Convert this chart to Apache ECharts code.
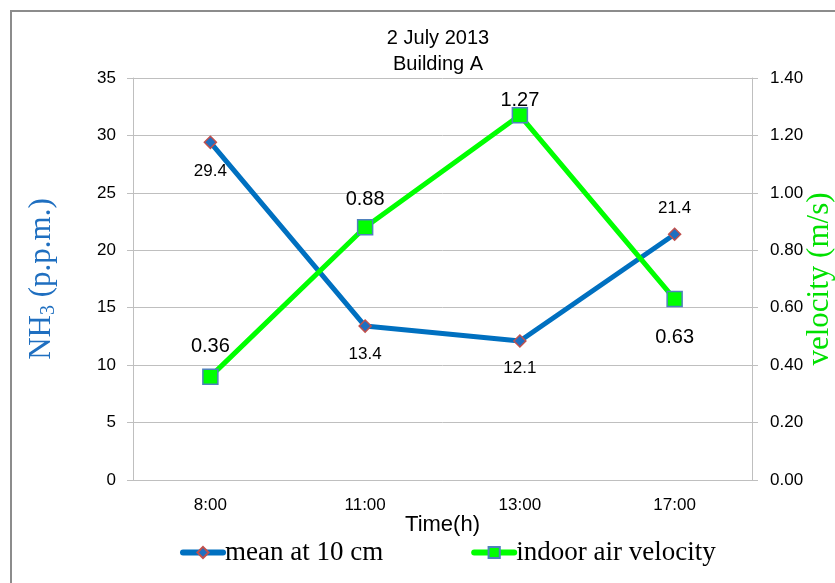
<!DOCTYPE html>
<html>
<head>
<meta charset="utf-8">
<script src="https://cdn.jsdelivr.net/npm/echarts@6/dist/echarts.min.js"></script>
<style>
  html, body { margin: 0; padding: 0; background: #fff; }
  #chart { width: 835px; height: 583px; }
</style>
</head>
<body>
<div id="chart"></div>
<script>
// Sampling times and measured values for Building A, 2 July 2013
const times = ['8:00', '11:00', '13:00', '17:00'];
const nh3Mean = [29.4, 13.4, 12.1, 21.4];          // NH3 mean at 10 cm (p.p.m.)
const airVelocity = [0.36, 0.88, 1.27, 0.63];      // indoor air velocity (m/s)

// Label placement for each point (above / below the marker)
const nh3LabelPos = ['bottom', 'bottom', 'bottom', 'top'];
const nh3LabelGap = [14, 13, 12, 11];
const velLabelPos = ['top', 'top', 'top', 'bottom'];
const velLabelGap = [12, 10, -3, 20];

const chart = echarts.init(document.getElementById('chart'));

const sans = '"Liberation Sans", Arial, sans-serif';
const serif = '"Liberation Serif", "Times New Roman", serif';

chart.setOption({
  animation: false,
  backgroundColor: '#ffffff',
  title: {
    text: '2 July 2013\nBuilding A',
    left: 433,
    top: 20,
    textAlign: 'center',
    textStyle: { fontFamily: sans, fontSize: 20, fontWeight: 'normal', color: '#000', lineHeight: 26 }
  },
  graphic: [{
    type: 'rect',
    shape: { x: 11, y: 11, width: 840, height: 590 },
    style: { fill: 'none', stroke: '#8c8c8c', lineWidth: 2 },
    silent: true
  }],
  grid: { left: 133, right: 83, top: 78, bottom: 103, outerBoundsMode: 'none' },
  legend: {
    bottom: 12,
    left: 175,
    itemWidth: 40,
    itemHeight: 14,
    itemGap: 88,
    lineStyle: { width: 6, cap: 'round' },
    textStyle: { fontFamily: serif, fontSize: 27, color: '#000', padding: [0, 0, 0, -3] },
    data: ['mean at 10 cm', 'indoor air velocity']
  },
  xAxis: {
    type: 'category',
    data: times,
    boundaryGap: true,
    name: 'Time(h)',
    nameLocation: 'middle',
    nameGap: 34,
    nameMoveOverlap: false,
    nameTextStyle: { fontFamily: sans, fontSize: 22, color: '#000' },
    axisLine: { lineStyle: { color: '#bfbfbf', width: 1 } },
    axisTick: { show: false },
    axisLabel: { fontFamily: sans, fontSize: 17, color: '#000', margin: 17 }
  },
  yAxis: [{
    type: 'value',
    min: 0, max: 35, interval: 5,
    position: 'left',
    name: 'NH{sub|3} (p.p.m.)',
    nameLocation: 'middle',
    nameRotate: 90,
    nameGap: 74,
    nameMoveOverlap: false,
    nameTextStyle: {
      fontFamily: serif, fontSize: 31, color: '#1f6fc0',
      rich: {
        sub: { fontFamily: serif, fontSize: 20, color: '#1f6fc0', padding: [14, 0, 0, 0] }
      }
    },
    axisLine: { show: true, lineStyle: { color: '#bfbfbf', width: 1 } },
    axisTick: { show: true, length: 6, lineStyle: { color: '#bfbfbf' } },
    axisLabel: { fontFamily: sans, fontSize: 17, color: '#000', margin: 17 },
    splitLine: { lineStyle: { color: '#bfbfbf', width: 1 } }
  }, {
    type: 'value',
    min: 0, max: 1.4, interval: 0.2,
    position: 'right',
    name: 'velocity (m/s)',
    nameLocation: 'middle',
    nameRotate: 90,
    nameGap: 52,
    nameMoveOverlap: false,
    nameTextStyle: { fontFamily: serif, fontSize: 31, color: '#00e000' },
    axisLine: { show: true, lineStyle: { color: '#bfbfbf', width: 1 } },
    axisTick: { show: true, length: 6, lineStyle: { color: '#bfbfbf' } },
    axisLabel: {
      fontFamily: sans, fontSize: 17, color: '#000', margin: 18,
      formatter: v => v.toFixed(2)
    },
    splitLine: { show: false }
  }],
  series: [{
    name: 'mean at 10 cm',
    type: 'line',
    yAxisIndex: 0,
    z: 2,
    data: nh3Mean.map((v, i) => ({
      value: v,
      label: { position: nh3LabelPos[i], distance: nh3LabelGap[i] }
    })),
    lineStyle: { color: '#0070c0', width: 5 },
    itemStyle: { color: '#1f6fc0', borderColor: '#c0504d', borderWidth: 1.5 },
    symbol: 'diamond',
    symbolSize: 12,
    label: {
      show: true,
      fontFamily: sans, fontSize: 17, color: '#000',
      formatter: p => p.value.toFixed(1)
    }
  }, {
    name: 'indoor air velocity',
    type: 'line',
    yAxisIndex: 1,
    z: 3,
    data: airVelocity.map((v, i) => ({
      value: v,
      label: { position: velLabelPos[i], distance: velLabelGap[i] }
    })),
    lineStyle: { color: '#00ff00', width: 5 },
    itemStyle: { color: '#00ff00', borderColor: '#4f81bd', borderWidth: 1.5 },
    symbol: 'rect',
    symbolSize: 15,
    label: {
      show: true,
      fontFamily: sans, fontSize: 20, color: '#000',
      formatter: p => p.value.toFixed(2)
    }
  }]
});
</script>
</body>
</html>
